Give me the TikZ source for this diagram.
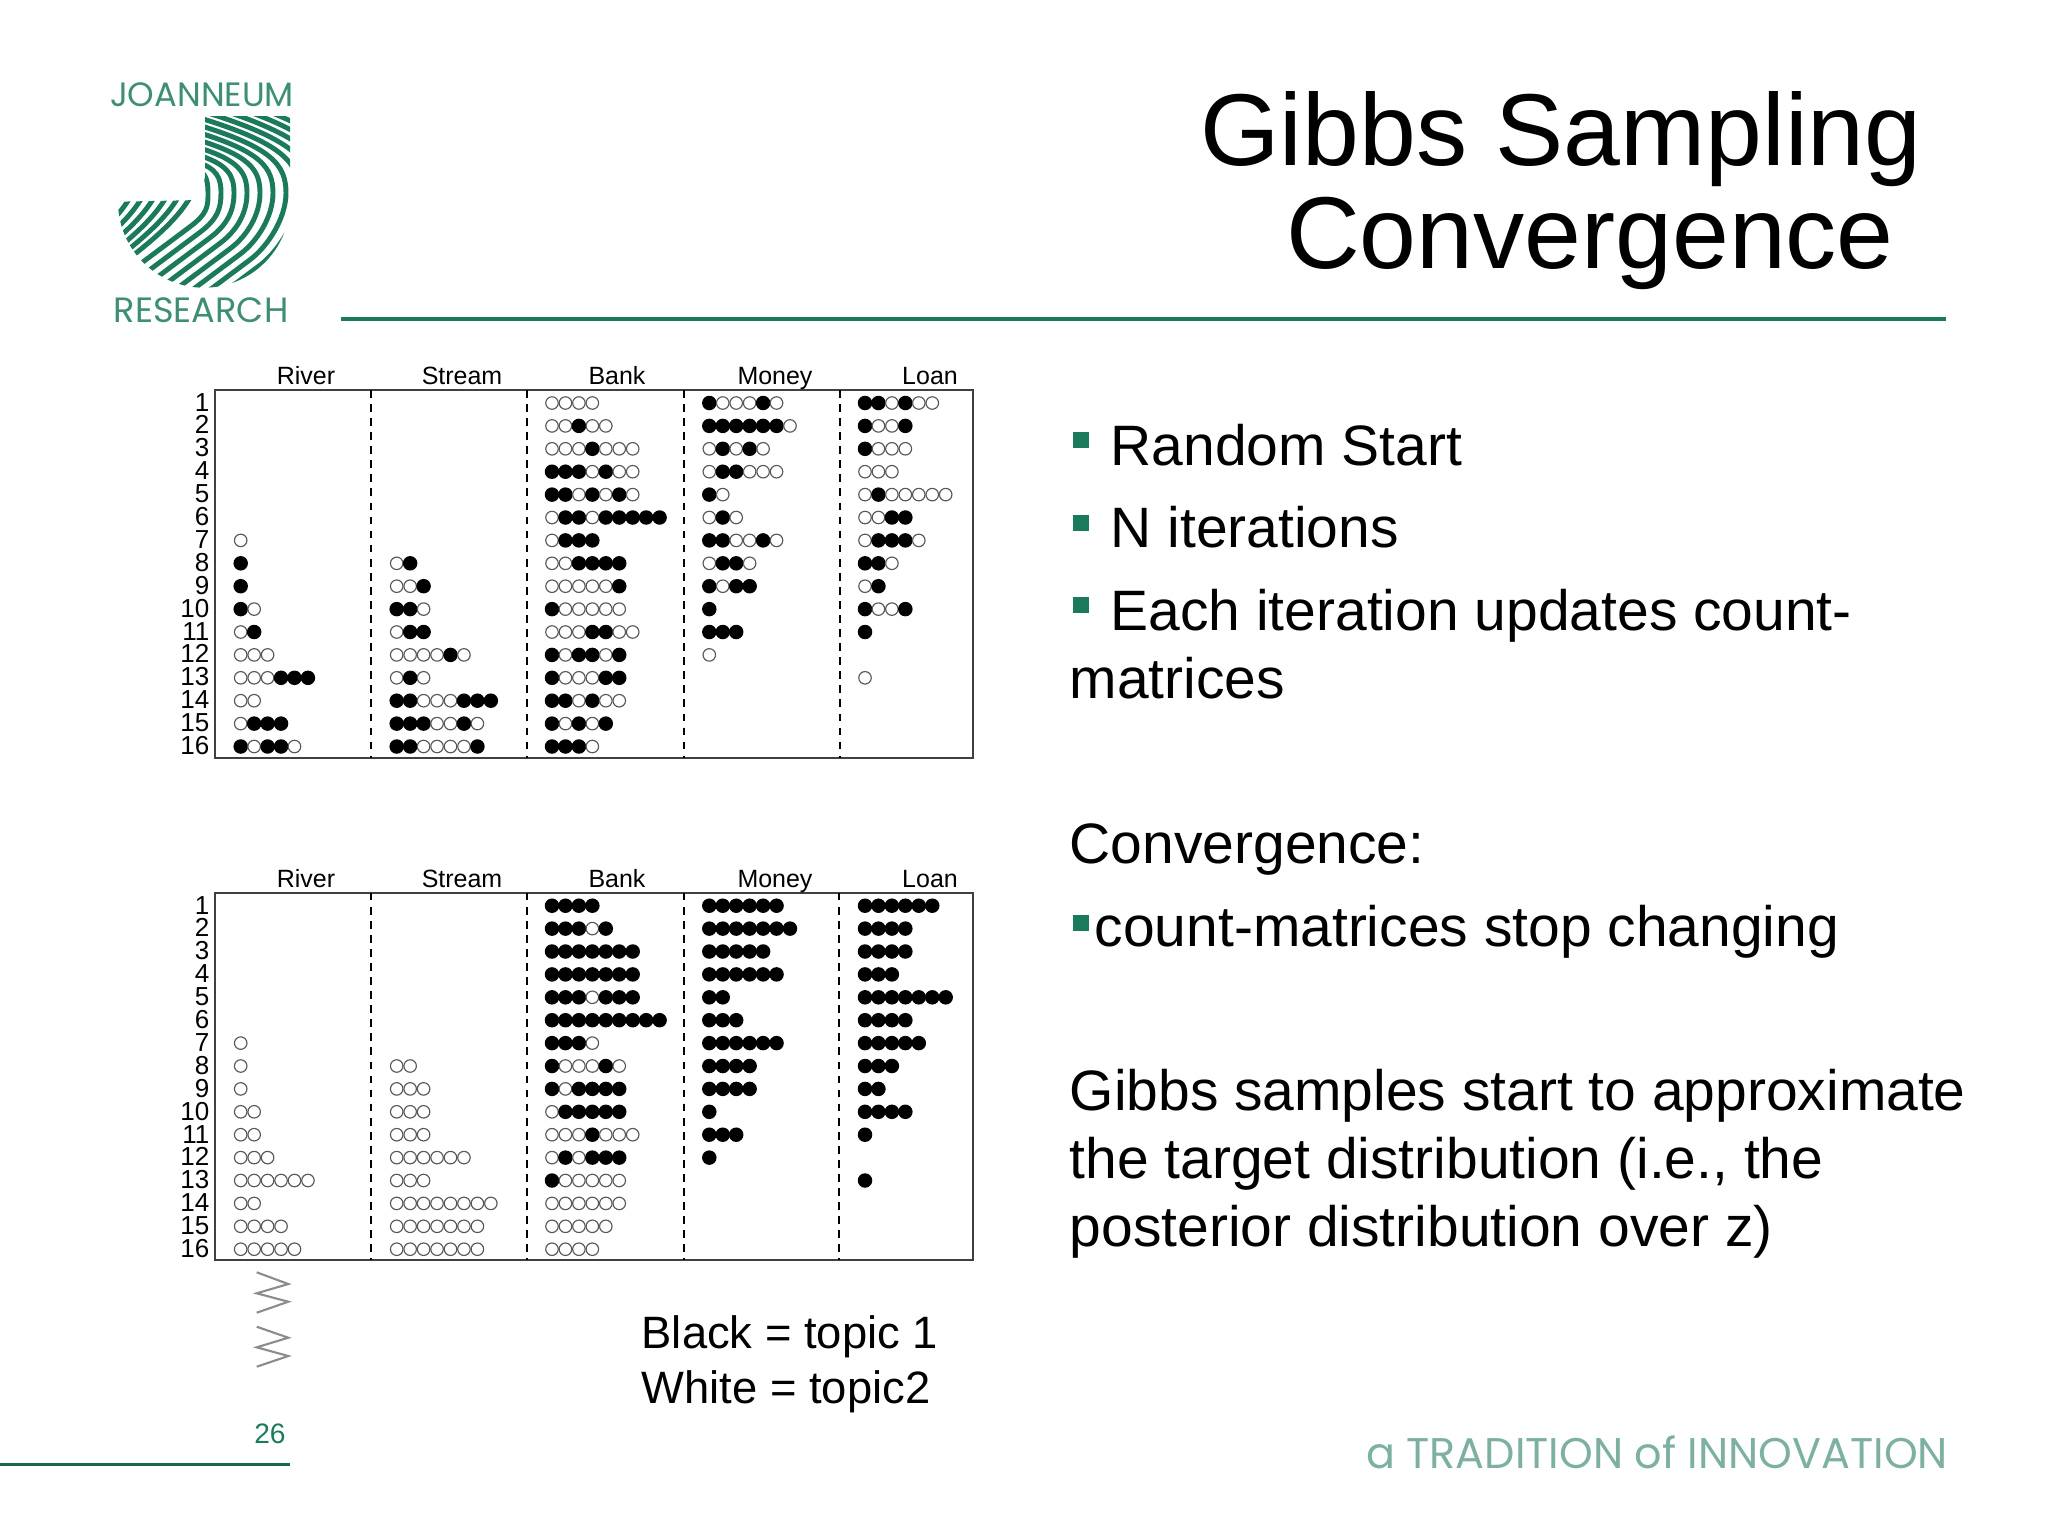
\documentclass[tikz,border=0pt]{standalone}
\usepackage{fontspec}
\setmainfont{Liberation Sans}
\newfontfamily\logofont{Poppins}

\definecolor{jrgreen}{HTML}{1B7A5C}
\definecolor{jrpale}{HTML}{7DB0A3}

\tikzset{
    dotw/.style={circle, draw=black!65, fill=white, line width=0.33pt, minimum size=0.125cm, inner sep=0pt},
    dotb/.style={circle, fill=black, minimum size=0.145cm, inner sep=0pt},
    rowlabel/.style={anchor=base east, inner sep=0pt, font=\fontsize{7.4}{9}\selectfont},
    collabel/.style={anchor=base, inner sep=0pt, font=\fontsize{7.1}{8}\selectfont},
    bodytext/.style={anchor=base west, inner sep=0pt, font=\fontsize{16.2}{19}\selectfont},
    titletext/.style={anchor=base, inner sep=0pt, font=\fontsize{29.05}{34}\selectfont},
    keytext/.style={anchor=base west, inner sep=0pt, font=\fontsize{12.9}{15}\selectfont},
    bulletbox/.style={fill=jrgreen, minimum size=0.16cm, inner sep=0pt},
    stripe/.style={draw=jrgreen, line width=1.4pt},
}

% one column of dots: name, first x, first y, rows
\newcommand{\dotcol}[4]{
    \foreach \r/\pat in {#4}{
        \foreach \c [count=\k] in \pat {
            \node[dot\c] (#1-\r-\k) at ({#2+13.45*(\k-1)},{#3+22.9*(\r-1)}) {};
        }
    }
}

\begin{document}
\begin{tikzpicture}[x=0.01cm, y=-0.01cm
        , every node/.style={}
    ]
    \useasboundingbox (0,0) rectangle (2048,1536);

    % logo, the stripes are only roughly right.
    \node[anchor=base, inner sep=0pt, text=jrgreen!85, font=\logofont\fontsize{9.6}{11}\selectfont] (joanneum) at (202,106) {JOANNEUM};
    \node[anchor=base, inner sep=0pt, text=jrgreen!85, font=\logofont\fontsize{10}{11}\selectfont] (research) at (201,322) {RESEARCH};
    \begin{scope}
        \clip (205,116) -- (290,116) -- (290,201.7)
            arc[start angle=0, end angle=180, radius=86]
            -- (200,200) -- (205,177) -- cycle;
        \foreach \k in {0,...,13}{
            \draw[stripe] ({195},{172-7.5*\k-3})
                .. controls ({195+0.85*(13+13*\k)},{169-7.5*\k+0.255*(13+13*\k)})
                and ({208+13*\k},{180-2.5*\k}) .. ({208+13*\k},193)
                .. controls ({208+13*\k},{206+2*\k})
                and ({208+10*\k},{213.25+5.5*\k}) .. ({190+10*\k},{226.75+5.5*\k})
                -- ({80},{309+13*\k});
        }
        \foreach \j in {1,...,7}{
            \draw[stripe] ({200-12*\j+6},190)
                .. controls ({200-12*\j-6},215) and ({200-12*\j-30},238) .. ({200-12*\j-85},278);
        }
    \end{scope}

    % title and its rule
    \node[titletext] (titlea) at (1561,165) {Gibbs Sampling};
    \node[titletext] (titleb) at (1590,268) {Convergence};
    \draw[jrgreen, line width=1.1pt] (341,319) -- (1946,319);

    % upper panel
    \draw[black!75, line width=0.5pt] (215,390) rectangle (973,758);
    \foreach \x in {370.7,526.7,683.7,840}{
        \draw[black, line width=0.5pt, dash pattern=on 2.2pt off 1.8pt] (\x,390) -- (\x,758);
    }
    \foreach \r in {1,...,16}{
        \node[rowlabel] (uprow\r) at (210,{411+22.9*(\r-1)}) {\r};
    }
    \node[collabel] (upriver) at (306,384) {River};
    \node[collabel] (upstream) at (462,384) {Stream};
    \node[collabel] (upbank) at (617,384) {Bank};
    \node[collabel] (upmoney) at (775,384) {Money};
    \node[collabel] (uploan) at (930,384) {Loan};

    \dotcol{upr}{240.7}{403}{7/{w},8/{b},9/{b},10/{b,w},11/{w,b},12/{w,w,w},13/{w,w,w,b,b,b},14/{w,w},15/{w,b,b,b},16/{b,w,b,b,w}}
    \dotcol{ups}{396.7}{403}{8/{w,b},9/{w,w,b},10/{b,b,w},11/{w,b,b},12/{w,w,w,w,b,w},13/{w,b,w},14/{b,b,w,w,w,b,b,b},15/{b,b,b,w,w,b,w},16/{b,b,w,w,w,w,b}}
    \dotcol{upb}{552}{403}{1/{w,w,w,w},2/{w,w,b,w,w},3/{w,w,w,b,w,w,w},4/{b,b,b,w,b,w,w},5/{b,b,w,b,w,b,w},6/{w,b,b,w,b,b,b,b,b},7/{w,b,b,b},8/{w,w,b,b,b,b},9/{w,w,w,w,w,b},10/{b,w,w,w,w,w},11/{w,w,w,b,b,w,w},12/{b,w,b,b,w,b},13/{b,w,w,w,b,b},14/{b,b,w,b,w,w},15/{b,w,b,w,b},16/{b,b,b,w}}
    \dotcol{upm}{709.3}{403}{1/{b,w,w,w,b,w},2/{b,b,b,b,b,b,w},3/{w,b,w,b,w},4/{w,b,b,w,w,w},5/{b,w},6/{w,b,w},7/{b,b,w,w,b,w},8/{w,b,b,w},9/{b,w,b,b},10/{b},11/{b,b,b},12/{w}}
    \dotcol{upl}{865}{403}{1/{b,b,w,b,w,w},2/{b,w,w,b},3/{b,w,w,w},4/{w,w,w},5/{w,b,w,w,w,w,w},6/{w,w,b,b},7/{w,b,b,b,w},8/{b,b,w},9/{w,b},10/{b,w,w,b},11/{b},13/{w}}

    % lower panel
    \draw[black!75, line width=0.5pt] (215,892.7) rectangle (973,1260);
    \foreach \x in {370.7,526.7,683.7,839}{
        \draw[black, line width=0.5pt, dash pattern=on 2.2pt off 1.8pt] (\x,892.7) -- (\x,1260);
    }
    \foreach \r in {1,...,16}{
        \node[rowlabel] (lorow\r) at (210,{914+22.9*(\r-1)}) {\r};
    }
    \node[collabel] (loriver) at (306,887) {River};
    \node[collabel] (lostream) at (462,887) {Stream};
    \node[collabel] (lobank) at (617,887) {Bank};
    \node[collabel] (lomoney) at (775,887) {Money};
    \node[collabel] (loloan) at (930,887) {Loan};

    \dotcol{lor}{240.7}{905.7}{7/{w},8/{w},9/{w},10/{w,w},11/{w,w},12/{w,w,w},13/{w,w,w,w,w,w},14/{w,w},15/{w,w,w,w},16/{w,w,w,w,w}}
    \dotcol{los}{396.7}{905.7}{8/{w,w},9/{w,w,w},10/{w,w,w},11/{w,w,w},12/{w,w,w,w,w,w},13/{w,w,w},14/{w,w,w,w,w,w,w,w},15/{w,w,w,w,w,w,w},16/{w,w,w,w,w,w,w}}
    \dotcol{lob}{552}{905.7}{1/{b,b,b,b},2/{b,b,b,w,b},3/{b,b,b,b,b,b,b},4/{b,b,b,b,b,b,b},5/{b,b,b,w,b,b,b},6/{b,b,b,b,b,b,b,b,b},7/{b,b,b,w},8/{b,w,w,w,b,w},9/{b,w,b,b,b,b},10/{w,b,b,b,b,b},11/{w,w,w,b,w,w,w},12/{w,b,w,b,b,b},13/{b,w,w,w,w,w},14/{w,w,w,w,w,w},15/{w,w,w,w,w},16/{w,w,w,w}}
    \dotcol{lom}{709.3}{905.7}{1/{b,b,b,b,b,b},2/{b,b,b,b,b,b,b},3/{b,b,b,b,b},4/{b,b,b,b,b,b},5/{b,b},6/{b,b,b},7/{b,b,b,b,b,b},8/{b,b,b,b},9/{b,b,b,b},10/{b},11/{b,b,b},12/{b}}
    \dotcol{lol}{865}{905.7}{1/{b,b,b,b,b,b},2/{b,b,b,b},3/{b,b,b,b},4/{b,b,b},5/{b,b,b,b,b,b,b},6/{b,b,b,b},7/{b,b,b,b,b},8/{b,b,b},9/{b,b},10/{b,b,b,b},11/{b},13/{b}}

    % squiggle under the lower panel
    \draw[black!45, line width=0.6pt] (256.7,1272.3) -- (288.3,1284) -- (256.7,1293.3) -- (288.3,1301.7) -- (256.7,1312.7);
    \draw[black!45, line width=0.6pt] (256.7,1326.7) -- (288.3,1337.7) -- (256.7,1347.3) -- (288.3,1356) -- (256.7,1366.7);

    % text on the right
    \node[bulletbox] (bulleta) at (1081,440) {};
    \node[bodytext] (randomstart) at (1110,465) {Random Start};
    \node[bulletbox] (bulletb) at (1081,523) {};
    \node[bodytext] (niterations) at (1110,547) {N iterations};
    \node[bulletbox] (bulletc) at (1081,605) {};
    \node[bodytext] (eachiter) at (1110,630) {Each iteration updates count-};
    \node[bodytext] (matrices) at (1069,698) {matrices};
    \node[bodytext] (convergence) at (1069,863) {Convergence:};
    \node[bulletbox] (bulletd) at (1081,923) {};
    \node[bodytext] (stopchanging) at (1094,946) {count-matrices stop changing};
    \node[bodytext] (gibbsa) at (1069,1110) {Gibbs samples start to approximate};
    \node[bodytext] (gibbsb) at (1069,1178) {the target distribution (i.e., the};
    \node[bodytext] (gibbsc) at (1069,1246) {posterior distribution over z)};

    % key and footer
    \node[keytext] (keyblack) at (641,1348) {Black = topic 1};
    \node[keytext] (keywhite) at (641,1403) {White = topic2};
    \node[anchor=base, inner sep=0pt, text=jrgreen, font=\fontsize{8}{10}\selectfont] (pagenum) at (270,1443) {26};
    \draw[jrgreen!85!black, line width=1pt] (0,1464.7) -- (290,1464.7);
    \node[anchor=base, inner sep=0pt, text=jrpale, font=\logofont\fontsize{12.2}{14}\selectfont] (tradition) at (1657,1468) {a TRADITION of INNOVATION};
\end{tikzpicture}
\end{document}
